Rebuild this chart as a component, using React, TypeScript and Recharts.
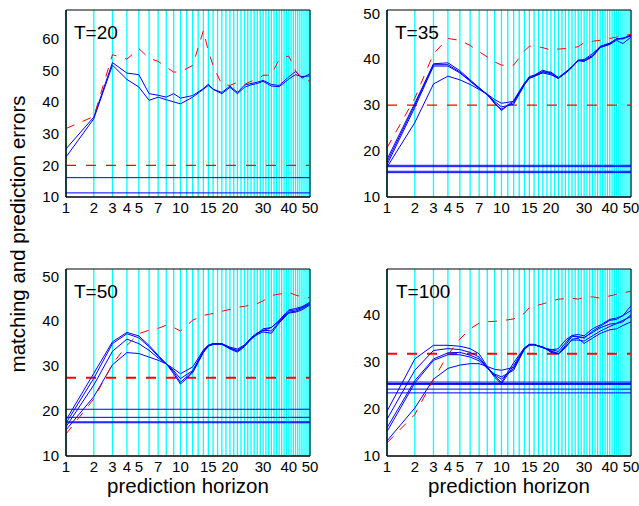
import React from "react";
import { LineChart, Line, XAxis, YAxis, ReferenceLine, ReferenceArea } from "recharts";

const horizons = [1, 2, 3, 4, 5, 6, 7, 8, 9, 10, 12, 14, 15, 16, 18, 20, 22, 24, 26, 28, 30, 33, 36, 40, 43, 46, 50];
// every integer horizon gets a cyan guide line
const gridHorizons = [
  1, 2, 3, 4, 5, 6, 7, 8, 9, 10, 11, 12, 13, 14, 15, 16, 17, 18, 19, 20, 21, 22, 23, 24, 25,
  26, 27, 28, 29, 30, 31, 32, 33, 34, 35, 36, 37, 38, 39, 40, 41, 42, 43, 44, 45, 46, 47, 48, 49, 50,
];
const xTickLabels = [1, 2, 3, 4, 5, 7, 10, 15, 20, 30, 40, 50];

// T=20
const t20BlueA = [25.2, 35.2, 52.4, 49.1, 48.6, 42.6, 42.1, 41.5, 42.6, 41.2, 42.0, 44.2, 45.6, 44.0, 43.0, 45.0, 43.0, 45.3, 45.8, 46.2, 46.8, 45.5, 45.2, 47.9, 49.6, 47.5, 48.9];
const t20BlueB = [22.6, 34.7, 51.6, 47.1, 44.7, 40.5, 41.5, 40.7, 40.0, 39.4, 41.5, 44.0, 45.2, 44.0, 42.6, 44.6, 42.6, 44.6, 45.4, 45.8, 46.5, 45.0, 44.8, 47.2, 48.6, 48.0, 48.2];
const t20Red = [31.6, 35.4, 54.9, 53.5, 56.8, 53.8, 52.8, 51.0, 49.4, 49.5, 51.5, 62.5, 56.0, 51.5, 45.5, 45.2, 46.2, 45.5, 46.5, 47.0, 48.4, 48.5, 53.5, 54.5, 49.8, 47.5, 46.5];
const t20RedLevel = 20.0;
const t20BlueLevels = [16.1, 11.3];

// T=35
const t35BlueA = [18.2, 30.4, 39.0, 39.2, 37.5, 35.5, 33.8, 32.3, 30.5, 28.8, 31.0, 34.8, 36.2, 36.5, 37.6, 37.0, 36.0, 37.2, 38.3, 39.8, 39.8, 40.8, 42.8, 43.5, 44.3, 44.5, 45.3];
const t35BlueB = [17.6, 30.0, 38.8, 38.8, 37.2, 35.3, 33.7, 32.3, 30.3, 29.1, 30.6, 34.6, 36.0, 36.4, 37.3, 36.8, 35.8, 37.0, 38.4, 39.6, 39.6, 40.5, 42.5, 43.3, 44.4, 44.6, 45.0];
const t35BlueC = [17.0, 29.5, 38.5, 38.5, 37.0, 35.2, 33.6, 32.2, 30.8, 29.6, 30.2, 34.4, 35.9, 36.2, 37.2, 37.2, 36.0, 36.9, 38.2, 39.7, 39.9, 41.2, 42.6, 43.2, 44.1, 43.4, 44.8];
const t35BlueD = [16.5, 26.2, 34.6, 36.3, 35.5, 34.5, 33.4, 32.4, 31.2, 30.4, 30.8, 34.5, 35.8, 36.3, 37.0, 36.6, 35.8, 37.0, 38.4, 39.8, 39.5, 40.6, 42.7, 43.4, 44.5, 44.4, 45.2];
const t35Red = [20.7, 31.5, 41.2, 44.5, 44.1, 43.0, 41.6, 40.5, 39.4, 38.7, 38.7, 41.8, 42.8, 42.9, 42.5, 42.0, 42.2, 42.3, 42.5, 42.7, 43.6, 43.9, 44.1, 44.5, 44.8, 45.1, 45.4];
const t35RedLevel = 30.0;
const t35BlueLevels = [16.9, 16.6, 15.6, 15.3];

// T=50
const t50BlueA = [18.0, 28.4, 35.4, 37.5, 36.7, 34.6, 32.4, 30.5, 28.7, 26.4, 28.8, 33.2, 34.5, 34.9, 35.0, 34.0, 33.5, 34.6, 36.3, 37.4, 37.9, 38.6, 40.0, 42.3, 42.5, 43.0, 44.0];
const t50BlueB = [17.3, 27.3, 35.0, 37.2, 36.3, 34.3, 32.2, 30.5, 28.3, 26.0, 28.5, 33.0, 34.4, 34.8, 34.9, 33.8, 33.1, 34.3, 36.0, 37.0, 37.6, 37.3, 39.6, 41.8, 42.0, 42.5, 43.6];
const t50BlueC = [16.5, 25.8, 33.3, 36.0, 35.0, 33.5, 31.8, 30.5, 29.0, 27.2, 29.0, 33.4, 34.6, 35.0, 35.0, 34.2, 33.8, 34.7, 36.2, 37.2, 38.3, 38.6, 40.2, 42.5, 42.8, 43.2, 44.2];
const t50BlueD = [15.8, 23.2, 30.3, 33.0, 32.8, 32.0, 31.3, 30.5, 29.4, 28.3, 29.8, 33.6, 34.7, 35.0, 34.8, 34.0, 33.3, 34.5, 36.0, 37.2, 38.0, 37.8, 39.8, 42.0, 42.2, 42.8, 43.8];
const t50Red = [14.9, 22.7, 30.5, 34.6, 37.2, 38.0, 38.4, 39.1, 38.6, 37.8, 40.2, 41.3, 41.5, 41.7, 42.2, 42.6, 43.1, 43.3, 43.6, 43.9, 44.5, 45.7, 46.0, 46.4, 45.8, 45.4, 45.2];
const t50RedLevel = 27.4;
const t50BlueLevels = [20.4, 18.6, 17.6, 17.4];

// T=100
const t100BlueA = [19.5, 30.6, 33.5, 33.5, 33.3, 32.8, 31.7, 29.0, 27.0, 25.6, 29.8, 33.0, 33.7, 33.7, 33.0, 32.3, 31.7, 33.5, 35.4, 35.4, 35.0, 36.5, 37.5, 38.8, 39.0, 39.8, 41.9];
const t100BlueB = [17.8, 28.2, 32.4, 32.8, 32.6, 32.0, 31.0, 28.8, 26.7, 25.3, 29.2, 32.9, 33.7, 33.7, 33.0, 32.6, 32.2, 34.0, 35.6, 35.8, 35.5, 37.0, 37.8, 39.0, 39.3, 39.8, 40.9];
const t100BlueC = [16.0, 26.0, 30.6, 31.9, 32.0, 31.4, 30.6, 28.8, 27.2, 26.3, 28.6, 32.8, 33.6, 33.6, 33.0, 32.5, 32.8, 34.6, 35.6, 35.2, 35.2, 36.2, 37.2, 38.0, 38.2, 38.8, 39.6];
const t100BlueD = [15.2, 25.5, 30.3, 31.5, 31.5, 31.0, 30.2, 28.6, 27.4, 26.8, 28.2, 32.7, 33.6, 33.6, 33.1, 32.2, 31.8, 33.2, 34.6, 34.6, 34.4, 35.5, 36.5, 37.5, 38.1, 38.5, 40.0];
const t100BlueE = [13.2, 20.2, 26.3, 28.6, 29.3, 29.6, 29.6, 29.0, 28.4, 28.2, 28.8, 32.6, 33.5, 33.6, 33.2, 32.0, 31.6, 33.0, 34.8, 35.0, 33.9, 35.0, 36.0, 36.8, 37.0, 37.7, 38.5];
const t100Red = [12.8, 18.8, 26.3, 31.5, 34.8, 37.0, 38.2, 38.5, 38.6, 38.7, 39.1, 40.3, 41.5, 41.8, 42.3, 42.8, 43.3, 43.4, 43.5, 43.3, 43.6, 43.8, 43.5, 44.0, 44.3, 44.6, 45.0];
const t100RedLevel = 31.7;
const t100BlueLevels = [25.7, 25.4, 25.2, 24.2, 23.4];

const FONT = '"Liberation Sans", Arial, Helvetica, sans-serif';
const BLUE = "#0000ff";
const RED = "#ff0000";
const CYAN = "#00ffff";

// the horizon axis is drawn on a fourth-root scale
const toX = (h: number) => Math.pow(h, 0.25);
const fromX = (v: number) => String(Math.round(Math.pow(v, 4)));
const X_MAX = toX(50);

type PanelProps = {
  left: number;
  top: number;
  blues: number[][];
  red: number[];
  redLevel: number;
  blueLevels: number[];
  yMax: number;
  yTicks: number[];
  redLevelWidth: number;
};

function Panel({ left, top, blues, red, redLevel, blueLevels, yMax, yTicks, redLevelWidth }: PanelProps) {
  const data = horizons.map((h, i) => {
    const row: Record<string, number> = { x: toX(h), red: red[i] };
    blues.forEach((s, k) => {
      row[`b${k}`] = s[i];
    });
    return row;
  });

  return (
    <div style={{ position: "absolute", left, top }}>
      <LineChart width={320} height={230} data={data} margin={{ top: 10, right: 10, bottom: 0, left: 26 }}>
        <XAxis
          dataKey="x"
          type="number"
          domain={[1, X_MAX]}
          ticks={xTickLabels.map(toX)}
          tickFormatter={fromX}
          interval={0}
          allowDataOverflow
          height={33}
          tickLine={false}
          tickSize={3}
          tickMargin={2}
          axisLine={{ stroke: "#000" }}
          tick={{ fill: "#000", fontSize: 15, fontFamily: FONT }}
        />
        <YAxis
          type="number"
          domain={[10, yMax]}
          ticks={yTicks}
          interval={0}
          allowDataOverflow
          width={40}
          tickLine={false}
          tickSize={5}
          tickMargin={2}
          axisLine={{ stroke: "#000" }}
          tick={{ fill: "#000", fontSize: 15, fontFamily: FONT }}
        />
        {gridHorizons.map((h) => (
          <ReferenceLine key={`g${h}`} x={toX(h)} stroke={CYAN} strokeWidth={1.3} zIndex={-10} />
        ))}
        {blueLevels.map((v, k) => (
          <ReferenceLine key={`bl${k}`} y={v} stroke={BLUE} strokeWidth={1} />
        ))}
        <ReferenceLine y={redLevel} stroke={RED} strokeWidth={redLevelWidth} strokeDasharray="10 10" />
        {blues.map((_, k) => (
          <Line
            key={`b${k}`}
            dataKey={`b${k}`}
            type="linear"
            stroke={BLUE}
            strokeWidth={1}
            dot={false}
            activeDot={false}
            isAnimationActive={false}
          />
        ))}
        <Line
          dataKey="red"
          type="linear"
          stroke={RED}
          strokeWidth={1}
          strokeDasharray="9 9"
          dot={false}
          activeDot={false}
          isAnimationActive={false}
        />
        <ReferenceArea x1={1} x2={X_MAX} y1={10} y2={yMax} fill="none" fillOpacity={0} stroke="#000" strokeWidth={1} />
      </LineChart>
    </div>
  );
}

export default function App() {
  const titles = [
    { text: "T=20", x: 74, y: 39 },
    { text: "T=35", x: 395, y: 39 },
    { text: "T=50", x: 74, y: 298 },
    { text: "T=100", x: 396, y: 298 },
  ];
  return (
    <div style={{ position: "absolute", left: 0, top: 0, width: 639, height: 506, background: "#fff", overflow: "hidden" }}>
      <Panel left={0} top={0} blues={[t20BlueA, t20BlueB]} red={t20Red} redLevel={t20RedLevel} blueLevels={t20BlueLevels} yMax={69} yTicks={[10, 20, 30, 40, 50, 60]} redLevelWidth={1.3} />
      <Panel left={321} top={0} blues={[t35BlueA, t35BlueB, t35BlueC, t35BlueD]} red={t35Red} redLevel={t35RedLevel} blueLevels={t35BlueLevels} yMax={50.7} yTicks={[10, 20, 30, 40, 50]} redLevelWidth={1.3} />
      <Panel left={0} top={259} blues={[t50BlueA, t50BlueB, t50BlueC, t50BlueD]} red={t50Red} redLevel={t50RedLevel} blueLevels={t50BlueLevels} yMax={51.6} yTicks={[10, 20, 30, 40, 50]} redLevelWidth={2} />
      <Panel left={321} top={259} blues={[t100BlueA, t100BlueB, t100BlueC, t100BlueD, t100BlueE]} red={t100Red} redLevel={t100RedLevel} blueLevels={t100BlueLevels} yMax={49.7} yTicks={[10, 20, 30, 40]} redLevelWidth={2} />
      <svg width={639} height={506} style={{ position: "absolute", left: 0, top: 0, pointerEvents: "none" }}>
        {titles.map((t) => (
          <text key={t.text} x={t.x} y={t.y} fontSize={19} fontFamily={FONT} fill="#000">
            {t.text}
          </text>
        ))}
        <text x={188} y={493} textAnchor="middle" fontSize={20.5} fontFamily={FONT} fill="#000">
          prediction horizon
        </text>
        <text x={509} y={493} textAnchor="middle" fontSize={20.5} fontFamily={FONT} fill="#000">
          prediction horizon
        </text>
        <text
          x={0}
          y={0}
          transform="translate(25 234) rotate(-90)"
          textAnchor="middle"
          fontSize={20.5}
          fontFamily={FONT}
          fill="#000"
        >
          matching and prediction errors
        </text>
      </svg>
    </div>
  );
}
